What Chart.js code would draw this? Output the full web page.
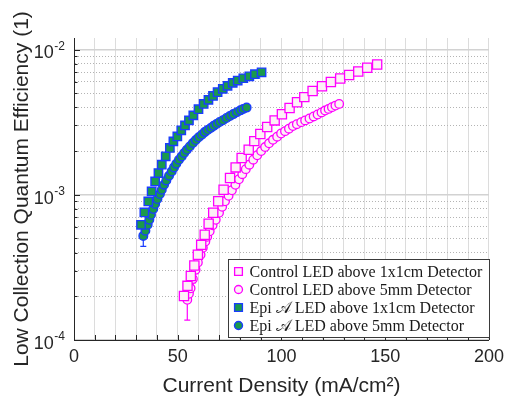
<!DOCTYPE html>
<html>
<head>
<meta charset="utf-8">
<script src="https://cdn.jsdelivr.net/npm/chart.js@4/dist/chart.umd.min.js"></script>
<style>
  html, body { margin: 0; padding: 0; background: #fff; }
</style>
</head>
<body>
<canvas id="eqe" width="510" height="399"></canvas>
<script>
// values (current density in mA/cm^2, efficiency)
const ctrlSqX = [53.0, 54.7, 56.3, 58.0, 59.7, 61.3, 63.0, 64.9, 67.1, 69.5, 72.1, 75.2, 77.9, 80.8, 84.2, 86.9, 89.8, 93.1, 96.7, 100.2, 103.9, 107.5, 111.0, 115.0, 119.5, 123.8, 128.3, 132.6, 137.0, 141.3, 146.1];
const ctrlSqY = [2.01e-4, 2.36e-4, 2.76e-4, 3.26e-4, 3.86e-4, 4.52e-4, 5.30e-4, 6.31e-4, 7.52e-4, 9.02e-4, 1.082e-3, 1.304e-3, 1.543e-3, 1.79e-3, 2.04e-3, 2.34e-3, 2.62e-3, 2.93e-3, 3.25e-3, 3.58e-3, 3.96e-3, 4.33e-3, 4.70e-3, 5.18e-3, 5.58e-3, 5.98e-3, 6.31e-3, 6.67e-3, 7.05e-3, 7.48e-3, 7.88e-3];
const ctrlSqErr = [1.4e-5, 1.5e-5, 1.6e-5, 1.8e-5, 2.0e-5, 2.2e-5];

const ctrlCircX = [54.6, 55.4, 56.2, 57.3, 58.6, 59.7, 61.0, 62.1, 63.3, 64.2, 65.4, 66.8, 68.3, 69.9, 71.4, 72.8, 74.5, 76.1, 77.8, 79.5, 81.1, 82.8, 84.5, 86.4, 88.3, 90.2, 92.1, 94.0, 95.9, 97.9, 99.8, 101.7, 103.6, 105.5, 107.4, 109.5, 111.4, 113.5, 115.5, 117.4, 119.3, 121.0, 122.7, 124.3, 126.0, 127.8];
const ctrlCircY = [1.89e-4, 2.08e-4, 2.27e-4, 2.63e-4, 3.04e-4, 3.42e-4, 3.86e-4, 4.31e-4, 4.76e-4, 5.13e-4, 5.60e-4, 6.16e-4, 6.72e-4, 7.52e-4, 8.27e-4, 9.02e-4, 9.84e-4, 1.074e-3, 1.172e-3, 1.279e-3, 1.385e-3, 1.50e-3, 1.61e-3, 1.743e-3, 1.87e-3, 2.00e-3, 2.13e-3, 2.26e-3, 2.39e-3, 2.51e-3, 2.64e-3, 2.74e-3, 2.85e-3, 2.97e-3, 3.06e-3, 3.16e-3, 3.25e-3, 3.35e-3, 3.46e-3, 3.57e-3, 3.69e-3, 3.80e-3, 3.90e-3, 4.01e-3, 4.11e-3, 4.22e-3];
const ctrlCircErr = [5.2e-5, 1.4e-5, 1.5e-5, 1.6e-5, 1.8e-5];

const epiSqX = [32.3, 33.9, 35.8, 37.4, 39.1, 40.7, 42.3, 44.2, 46.2, 47.9, 49.8, 51.7, 53.5, 55.4, 57.5, 60.0, 62.5, 64.8, 67.0, 69.2, 71.7, 74.0, 76.5, 78.9, 81.6, 84.5, 87.2, 90.4];
const epiSqY = [6.21e-4, 7.55e-4, 8.99e-4, 1.054e-3, 1.235e-3, 1.41e-3, 1.61e-3, 1.84e-3, 2.10e-3, 2.33e-3, 2.52e-3, 2.78e-3, 3.00e-3, 3.25e-3, 3.52e-3, 3.88e-3, 4.22e-3, 4.50e-3, 4.79e-3, 5.08e-3, 5.36e-3, 5.62e-3, 5.89e-3, 6.11e-3, 6.34e-3, 6.54e-3, 6.76e-3, 6.97e-3];
const epiSqErr = [3.0e-5];

const epiCircX = [33.4, 34.4, 35.5, 36.3, 37.1, 38.2, 39.1, 40.2, 41.4, 42.3, 43.4, 44.5, 45.8, 47.1, 48.2, 49.3, 50.6, 51.9, 53.1, 54.4, 55.8, 57.3, 58.7, 60.1, 61.6, 63.0, 64.4, 65.9, 67.3, 68.7, 70.2, 71.8, 73.5, 75.2, 76.8, 78.5, 80.2, 81.6, 83.2];
const epiCircY = [5.21e-4, 5.65e-4, 6.21e-4, 6.72e-4, 7.28e-4, 7.97e-4, 8.63e-4, 9.34e-4, 1.011e-3, 1.082e-3, 1.172e-3, 1.255e-3, 1.352e-3, 1.448e-3, 1.543e-3, 1.636e-3, 1.743e-3, 1.837e-3, 1.94e-3, 2.04e-3, 2.15e-3, 2.27e-3, 2.38e-3, 2.49e-3, 2.59e-3, 2.70e-3, 2.79e-3, 2.88e-3, 2.98e-3, 3.07e-3, 3.17e-3, 3.26e-3, 3.38e-3, 3.49e-3, 3.59e-3, 3.70e-3, 3.81e-3, 3.90e-3, 3.98e-3];
const epiCircErr = [8.0e-5];

const seriesLabels = [
  'Control LED above 1x1cm Detector',
  'Control LED above 5mm Detector',
  'Epi 𝒜 LED above 1x1cm Detector',
  'Epi 𝒜 LED above 5mm Detector'
];

// axis ticks
const xTicks = [0, 10, 20, 30, 40, 50, 60, 70, 80, 90, 100, 110, 120, 130, 140, 150, 160, 170, 180, 190, 200];
const xMajor = [0, 50, 100, 150, 200];
const yTicks = [1e-4, 2e-4, 3e-4, 4e-4, 5e-4, 6e-4, 7e-4, 8e-4, 9e-4, 1e-3, 2e-3, 3e-3, 4e-3, 5e-3, 6e-3, 7e-3, 8e-3, 9e-3, 1e-2];
const yMajor = [1e-4, 1e-3, 1e-2];
const yMajorExp = ['-4', '-3', '-2'];

const ink = '#262626';
const magenta = '#ff00ff';
const pinkFill = '#fdf0f6';
const green = '#1a994d';
const blue = '#1a3cff';

const toPoints = (xs, ys) => xs.map((x, i) => ({ x: x, y: ys[i] }));
const isDecade = v => yMajor.some(m => Math.abs(m - v) / m < 1e-6);

const datasets = [
  { label: seriesLabels[0], data: toPoints(ctrlSqX, ctrlSqY), errors: ctrlSqErr,
    pointStyle: 'rect', pointRadius: 6.5, pointBackgroundColor: pinkFill, pointBorderColor: magenta, pointBorderWidth: 1.3, borderColor: magenta },
  { label: seriesLabels[1], data: toPoints(ctrlCircX, ctrlCircY), errors: ctrlCircErr,
    pointStyle: 'circle', pointRadius: 4.3, pointBackgroundColor: pinkFill, pointBorderColor: magenta, pointBorderWidth: 1.3, borderColor: magenta },
  { label: seriesLabels[2], data: toPoints(epiSqX, epiSqY), errors: epiSqErr,
    pointStyle: 'rect', pointRadius: 5.9, pointBackgroundColor: green, pointBorderColor: blue, pointBorderWidth: 1.4, borderColor: blue },
  { label: seriesLabels[3], data: toPoints(epiCircX, epiCircY), errors: epiCircErr,
    pointStyle: 'circle', pointRadius: 4.3, pointBackgroundColor: green, pointBorderColor: blue, pointBorderWidth: 1.4, borderColor: blue }
];

// vertical error bars with caps, under the markers
const errorBars = {
  id: 'errorBars',
  beforeDatasetsDraw(chart) {
    const { ctx, scales: { x, y } } = chart;
    chart.data.datasets.forEach(ds => {
      ctx.save();
      ctx.strokeStyle = ds.borderColor;
      ctx.lineWidth = 1.2;
      ds.errors.forEach((e, j) => {
        const p = ds.data[j];
        const px = x.getPixelForValue(p.x);
        const top = y.getPixelForValue(p.y + e);
        const bot = y.getPixelForValue(p.y - e);
        ctx.beginPath();
        ctx.moveTo(px, top); ctx.lineTo(px, bot);
        ctx.moveTo(px - 3, top); ctx.lineTo(px + 3, top);
        ctx.moveTo(px - 3, bot); ctx.lineTo(px + 3, bot);
        ctx.stroke();
      });
      ctx.restore();
    });
  }
};

function drawMarker(ctx, ds, cx, cy) {
  ctx.fillStyle = ds.pointBackgroundColor;
  ctx.strokeStyle = ds.pointBorderColor;
  ctx.lineWidth = ds.pointBorderWidth;
  Chart.helpers.drawPoint(ctx, {
    pointStyle: ds.pointStyle, radius: ds.pointStyle === 'rect' ? 5.5 : 4, rotation: 0, borderWidth: ds.pointBorderWidth
  }, cx, cy);
}

// inward ticks, 10^n labels and the boxed legend
const axisDecor = {
  id: 'axisDecor',
  afterDraw(chart) {
    const { ctx, chartArea: a, scales: { x, y } } = chart;
    ctx.save();
    ctx.strokeStyle = ink;
    ctx.lineWidth = 1;
    xTicks.forEach(v => {
      const px = Math.round(x.getPixelForValue(v)) + 0.5;
      ctx.beginPath(); ctx.moveTo(px, a.bottom); ctx.lineTo(px, a.bottom - 5); ctx.stroke();
    });
    yTicks.forEach(v => {
      const py = Math.round(y.getPixelForValue(v)) + 0.5;
      const len = isDecade(v) ? 6 : 3.5;
      ctx.beginPath(); ctx.moveTo(a.left, py); ctx.lineTo(a.left + len, py); ctx.stroke();
    });

    ctx.fillStyle = ink;
    ctx.textAlign = 'right';
    ctx.textBaseline = 'middle';
    yMajor.forEach((v, i) => {
      const py = y.getPixelForValue(v);
      const right = a.left - 9;
      ctx.font = '12px "Liberation Sans"';
      const w = ctx.measureText(yMajorExp[i]).width;
      ctx.fillText(yMajorExp[i], right, py - 3);
      ctx.font = '18px "Liberation Sans"';
      ctx.fillText('10', right - w - 0.5, py + 4);
    });

    // legend box in the lower right corner
    const bw = 261, bh = 78;
    const bx = Math.round(a.right - bw) + 0.5, by = Math.round(a.bottom - bh - 3) + 0.5;
    ctx.fillStyle = '#fff';
    ctx.fillRect(bx, by, bw, bh);
    ctx.strokeStyle = '#3a3a3a';
    ctx.strokeRect(bx, by, bw, bh);
    ctx.font = '16px "Liberation Serif"';
    ctx.textAlign = 'left';
    chart.data.datasets.forEach((ds, i) => {
      const cy = by + 12 + i * 18;
      drawMarker(ctx, ds, bx + 10, cy);
      ctx.fillStyle = '#1a1a1a';
      ctx.fillText(ds.label, bx + 21, cy + 1);
    });
    ctx.restore();
  }
};

new Chart(document.getElementById('eqe'), {
  type: 'scatter',
  data: { datasets: datasets },
  options: {
    responsive: false,
    animation: false,
    devicePixelRatio: 1,
    layout: { padding: { top: 38, right: 17, left: 0, bottom: 0 } },
    plugins: { legend: { display: false }, tooltip: { enabled: false } },
    scales: {
      x: {
        type: 'linear', min: 0, max: 200,
        afterBuildTicks: s => { s.ticks = xTicks.map(v => ({ value: v })); },
        afterFit: s => { s.height = 59; },
        ticks: {
          autoSkip: false, maxRotation: 0, padding: 6, color: ink,
          font: { family: 'Liberation Sans', size: 18 },
          callback: v => xMajor.includes(v) ? String(v) : ''
        },
        grid: { color: '#dcdcdc', lineWidth: 1, drawTicks: false },
        border: { color: ink, width: 1 },
        title: {
          display: true, text: 'Current Density (mA/cm²)', color: ink,
          font: { family: 'Liberation Sans', size: 21 }, padding: { top: 0, bottom: 0 }
        }
      },
      y: {
        type: 'logarithmic', min: 1e-4, max: 1.2e-2,
        afterBuildTicks: s => { s.ticks = yTicks.map(v => ({ value: v })); },
        afterFit: s => { s.width = 74; },
        ticks: { display: false },
        grid: {
          drawTicks: false,
          color: c => c.tick && isDecade(c.tick.value) ? '#d2d2d2' : '#b4b4b4',
          lineWidth: c => c.tick && isDecade(c.tick.value) ? 1.5 : 1
        },
        border: {
          color: ink, width: 1,
          dash: c => c.tick && !isDecade(c.tick.value) ? [1, 2] : []
        },
        title: {
          display: true, text: 'Low Collection Quantum Efficiency (1)', color: ink,
          font: { family: 'Liberation Sans', size: 21 }, padding: { top: 10, bottom: 0 }
        }
      }
    }
  },
  plugins: [errorBars, axisDecor]
});
</script>
</body>
</html>
